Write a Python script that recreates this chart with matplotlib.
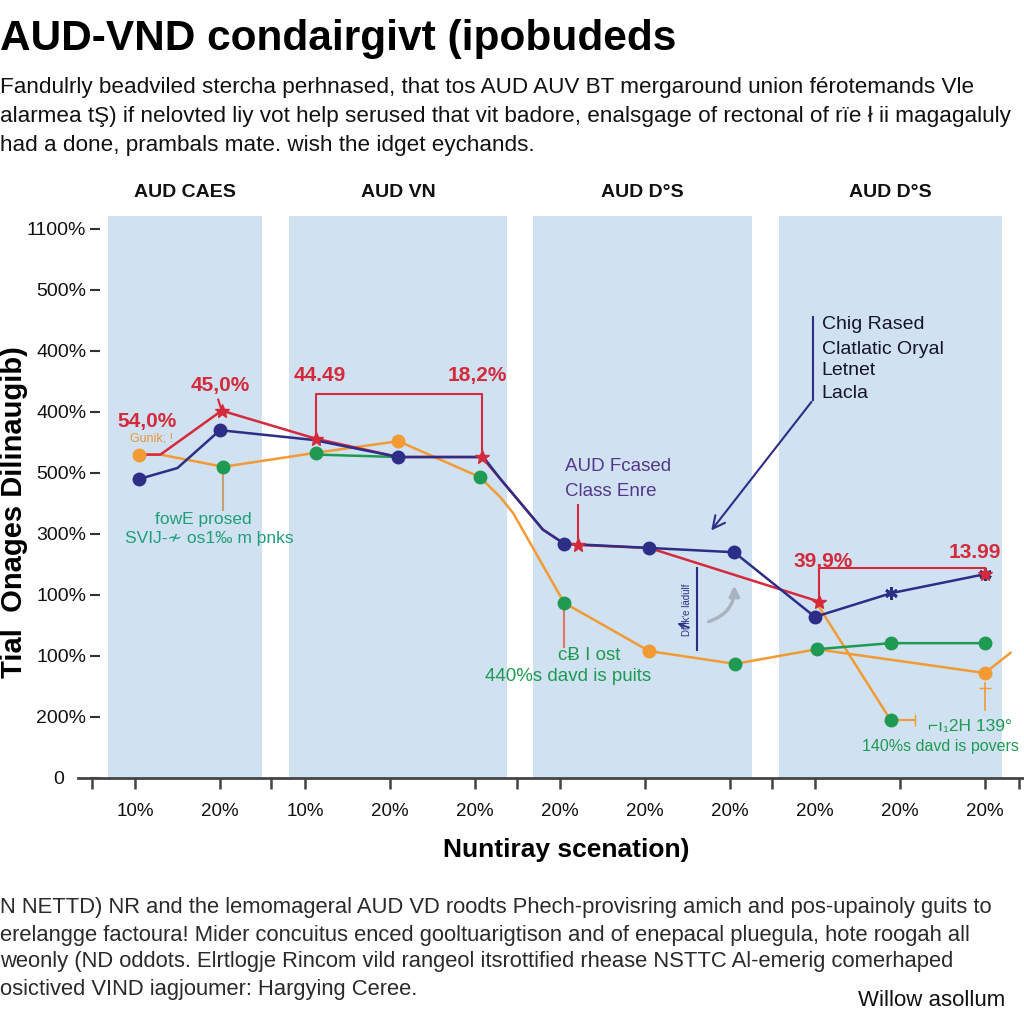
import matplotlib
matplotlib.use("Agg")
import matplotlib.pyplot as plt

plt.rcParams['font.family'] = ['Liberation Sans', 'DejaVu Sans']

# x positions are scenario slots 0..10, y values are on the tick index scale
tick_labels_x = ['10%', '20%', '10%', '20%', '20%', '20%', '20%', '20%', '20%', '20%', '20%']
tick_labels_y = ['0    ', '200%', '100%', '100%', '300%', '500%', '400%', '400%', '500%', '1100%']
groups = ['AUD CAES', 'AUD VN', 'AUD D\u00b0S', 'AUD D\u00b0S']
band_edges = [(-0.32, 1.49), (1.81, 4.38), (4.68, 7.26), (7.58, 10.2)]
gap_ticks = [-0.5, 1.6, 4.5, 7.5, 10.4]

navy_x = [0.05, 0.5, 1.0, 2.1, 3.1, 4.1, 4.3, 4.8, 5.05, 6.05, 7.05, 8.0, 8.9, 10.0]
navy_y = [4.90, 5.08, 5.70, 5.54, 5.26, 5.26, 4.90, 4.07, 3.84, 3.77, 3.70, 2.64, 3.03, 3.34]
navy_dot_x = [0.05, 1.0, 3.1, 5.05, 6.05, 7.05, 8.0]
navy_dot_y = [4.90, 5.70, 5.26, 3.84, 3.77, 3.70, 2.64]

red_x = [0.05, 0.3, 1.02, 2.13, 3.1, 4.08, 4.3, 4.8, 5.05, 5.21, 6.05, 8.05]
red_y = [5.30, 5.30, 6.02, 5.56, 5.26, 5.26, 4.90, 4.07, 3.84, 3.82, 3.77, 2.89]
red_star_x = [1.02, 2.13, 4.08, 5.21, 8.05, 10.0]
red_star_y = [6.02, 5.56, 5.26, 3.82, 2.89, 3.34]

orange_x = [0.05, 0.3, 1.04, 2.13, 3.1, 4.06, 4.3, 4.45, 5.05, 6.05, 7.06, 8.02, 10.0, 10.3]
orange_y = [5.30, 5.30, 5.10, 5.33, 5.52, 4.93, 4.60, 4.34, 2.87, 2.08, 1.87, 2.11, 1.72, 2.05]
orange_dot_x = [0.05, 3.1, 6.05, 10.0]
orange_dot_y = [5.30, 5.52, 2.08, 1.72]
orange_drop_x = [8.05, 8.89]
orange_drop_y = [2.80, 0.95]

green_a_x = [2.13, 3.1]
green_a_y = [5.30, 5.26]
green_b_x = [8.02, 8.89, 10.0]
green_b_y = [2.11, 2.21, 2.21]
green_dot_x = [1.04, 2.13, 4.06, 5.05, 7.06, 8.02, 8.89, 8.89, 10.0]
green_dot_y = [5.10, 5.33, 4.93, 2.87, 1.87, 2.11, 0.95, 2.21, 2.21]

NAVY = '#2d2e88'
RED = '#d42a3c'
ORANGE = '#f29b34'
GREEN = '#1f9a52'
TEAL = '#1f9e7a'

fig = plt.figure(figsize=(10.24, 10.24), dpi=100)
ax = fig.add_axes([78 / 1024, 1 - 778 / 1024, 1 - 78 / 1024, (778 - 216) / 1024])
ax.set_xlim(-0.67, 10.46)
ax.set_ylim(0, 9.21)

for (a, b), name in zip(band_edges, groups):
    ax.axvspan(a, b, color='#d0e1f1', zorder=0, lw=0)
    ax.text((a + b) / 2, 9.6, name, ha='center', va='center', fontsize=14,
            fontweight='bold', color='#111111', clip_on=False)

# lines
ax.plot(orange_x, orange_y, color=ORANGE, lw=1.8, zorder=2)
ax.plot(orange_drop_x, orange_drop_y, color=ORANGE, lw=1.8, zorder=2)
ax.plot(green_a_x, green_a_y, color=GREEN, lw=1.8, zorder=2)
ax.plot(green_b_x, green_b_y, color=GREEN, lw=1.8, zorder=2)
ax.plot(red_x, red_y, color=RED, lw=1.8, zorder=3)
ax.plot(navy_x, navy_y, color=NAVY, lw=1.8, zorder=3)

# markers
ax.plot(orange_dot_x, orange_dot_y, 'o', color=ORANGE, ms=9, zorder=4)
ax.plot(green_dot_x, green_dot_y, 'o', color=GREEN, ms=9, zorder=4)
ax.plot(navy_dot_x, navy_dot_y, 'o', color=NAVY, ms=9, zorder=5)
ax.plot([8.9, 10.0], [3.03, 3.34], marker=(6, 2, 0), ls='none', color=NAVY, ms=9, mew=2, zorder=5)
ax.plot(red_star_x, red_star_y, marker='*', ls='none', color=RED, ms=10, zorder=6)

# stems
ax.plot([1.04, 1.04], [5.0, 4.39], color='#c8a070', lw=1.5, zorder=2)
ax.plot([5.05, 5.05], [2.78, 2.15], color='#e0785a', lw=1.5, zorder=2)
ax.plot([8.89, 9.18], [0.95, 0.95], color=ORANGE, lw=1.5, zorder=2)
ax.plot([9.18], [0.95], marker='|', color=ORANGE, ms=8, zorder=2)
ax.plot([10.0, 10.0], [1.55, 1.11], color=ORANGE, lw=1.2, zorder=2)
ax.plot([10.0], [1.47], marker='_', color=ORANGE, ms=9, zorder=2)

# red brackets
ax.plot([0.98, 1.02], [6.2, 6.02], color=RED, lw=1.5, zorder=6)
ax.plot([2.13, 2.13, 4.08, 4.08], [5.56, 6.30, 6.30, 5.26], color=RED, lw=1.5, zorder=6)
ax.plot([5.21, 5.21], [4.48, 3.82], color=RED, lw=1.5, zorder=6)
ax.plot([8.05, 8.05, 10.0], [2.89, 3.44, 3.44], color=RED, lw=1.5, zorder=6)

ax.text(0.14, 5.85, '54,0%', color=RED, fontsize=15, fontweight='bold', ha='center', va='center')
ax.text(0.2, 5.57, 'Gunik; !', color='#e8963a', fontsize=9, ha='center', va='center')
ax.text(1.0, 6.44, '45,0%', color=RED, fontsize=15, fontweight='bold', ha='center', va='center')
ax.text(2.18, 6.59, '44.49', color=RED, fontsize=15, fontweight='bold', ha='center', va='center')
ax.text(4.03, 6.59, '18,2%', color=RED, fontsize=15, fontweight='bold', ha='center', va='center')
ax.text(8.1, 3.54, '39,9%', color=RED, fontsize=15, fontweight='bold', ha='center', va='center')
ax.text(9.88, 3.70, '13.99', color=RED, fontsize=15, fontweight='bold', ha='center', va='center')

ax.text(0.8, 4.23, 'fowE prosed', color=TEAL, fontsize=12.5, ha='center', va='center')
ax.text(0.88, 3.93, 'SVIJ-\u2241 os1\u2030 m \u00fenks', color=TEAL, fontsize=12.5, ha='center', va='center')
ax.text(5.06, 5.10, 'AUD Fcased', color='#54378a', fontsize=13.5, ha='left', va='center')
ax.text(5.06, 4.70, 'Class Enre', color='#54378a', fontsize=13.5, ha='left', va='center')
ax.text(5.35, 2.0, 'c\u0243 I ost', color=GREEN, fontsize=13.5, ha='center', va='center')
ax.text(5.1, 1.67, '440%s davd is puits', color=GREEN, fontsize=13.5, ha='center', va='center')
ax.text(9.82, 0.85, '\u2310\u0131\u20812H 139\u00b0', color=GREEN, fontsize=12.5, ha='center', va='center')
ax.text(8.55, 0.52, '140%s davd is povers', color=GREEN, fontsize=11.5, ha='left', va='center',
        clip_on=False)

# navy callout
ax.plot([7.98, 7.98], [7.56, 6.2], color=NAVY, lw=1.5, zorder=5)
ax.annotate('', xy=(6.76, 4.02), xytext=(7.98, 6.2),
            arrowprops=dict(arrowstyle='->', color=NAVY, lw=1.5, mutation_scale=22))
for yy, s in zip([7.43, 7.03, 6.67, 6.30], ['Chig Rased', 'Clatlatic Oryal', 'Letnet', 'Lacla']):
    ax.text(8.08, yy, s, color='#15152a', fontsize=14, ha='left', va='center')

ax.plot([6.61, 6.61], [3.44, 2.10], color=NAVY, lw=1.5, zorder=5)
ax.text(6.5, 2.75, 'Dink\u02b9e l\u00e4d\u00fclf', color=NAVY, fontsize=7, rotation=90,
        ha='center', va='center')
ax.annotate('', xy=(6.35, 2.55), xytext=(6.55, 2.45),
            arrowprops=dict(arrowstyle='->', color=NAVY, lw=1.2))
ax.annotate('', xy=(7.05, 3.2), xytext=(6.72, 2.55),
            arrowprops=dict(arrowstyle='-|>', color='#a9b3bf', lw=2.5,
                            connectionstyle='arc3,rad=0.4', mutation_scale=15))

# axes styling
for s in ['top', 'right', 'left']:
    ax.spines[s].set_visible(False)
ax.spines['left'].set_position(('data', -0.41))
ax.spines['bottom'].set_color('#444444')
ax.spines['bottom'].set_linewidth(2)

ax.set_yticks(range(len(tick_labels_y)))
ax.set_yticklabels(tick_labels_y, fontsize=14, color='#111111')
ax.tick_params(axis='y', length=7, width=1.5, color='#333333', pad=3)
ax.set_xticks(range(len(tick_labels_x)))
ax.set_xticklabels(tick_labels_x, fontsize=13.5, color='#111111')
ax.set_xticks(gap_ticks, minor=True)
ax.tick_params(axis='x', which='both', length=8, width=1.8, color='#444444', pad=10)

fig.text(566 / 1024, 1 - 850 / 1024, 'Nuntiray scenation)', fontsize=19, fontweight='bold',
         ha='center', va='center')
fig.text(0.014, 0.5, 'Tial  Onages Dilinaugib)', rotation=90, fontsize=21, fontweight='bold',
         ha='center', va='center')

fig.text(0.0, 0.962, 'AUD-VND condairgivt (ipobudeds', fontsize=30.5, fontweight='bold',
         ha='left', va='center')
sub = ['Fandulrly beadviled stercha perhnased, that tos AUD AUV BT mergaround union f\u00e9rotemands Vle',
       'alarmea t\u015e) if nelovted liy vot help serused that vit badore, enalsgage of rectonal of r\u00efe \u0142 ii magagaluly',
       'had a done, prambals mate. wish the idget eychands.']
for i, s in enumerate(sub):
    fig.text(0.0, 1 - (88 + 28.5 * i) / 1024, s, fontsize=16.2, ha='left', va='center', color='#111111')

foot = ['N NETTD) NR and the lemomageral AUD VD roodts Phech-provisring amich and pos-upainoly guits to',
        'erelangge factoura! Mider concuitus enced gooltuarigtison and of enepacal pluegula, hote roogah all',
        'weonly (ND oddots. Elrtlogje Rincom vild rangeol itsrottified rhease NSTTC Al-emerig comerhaped',
        'osictived VIND iagjoumer: Hargying Ceree.']
for i, s in enumerate(foot):
    fig.text(0.0, 1 - (908 + 27 * i) / 1024, s, fontsize=15.8, ha='left', va='center', color='#2a2a2a')
fig.text(0.838, 1 - 1000 / 1024, 'Willow asollum', fontsize=16, ha='left', va='center', color='#111111')

fig.savefig('out.png', dpi=100)
